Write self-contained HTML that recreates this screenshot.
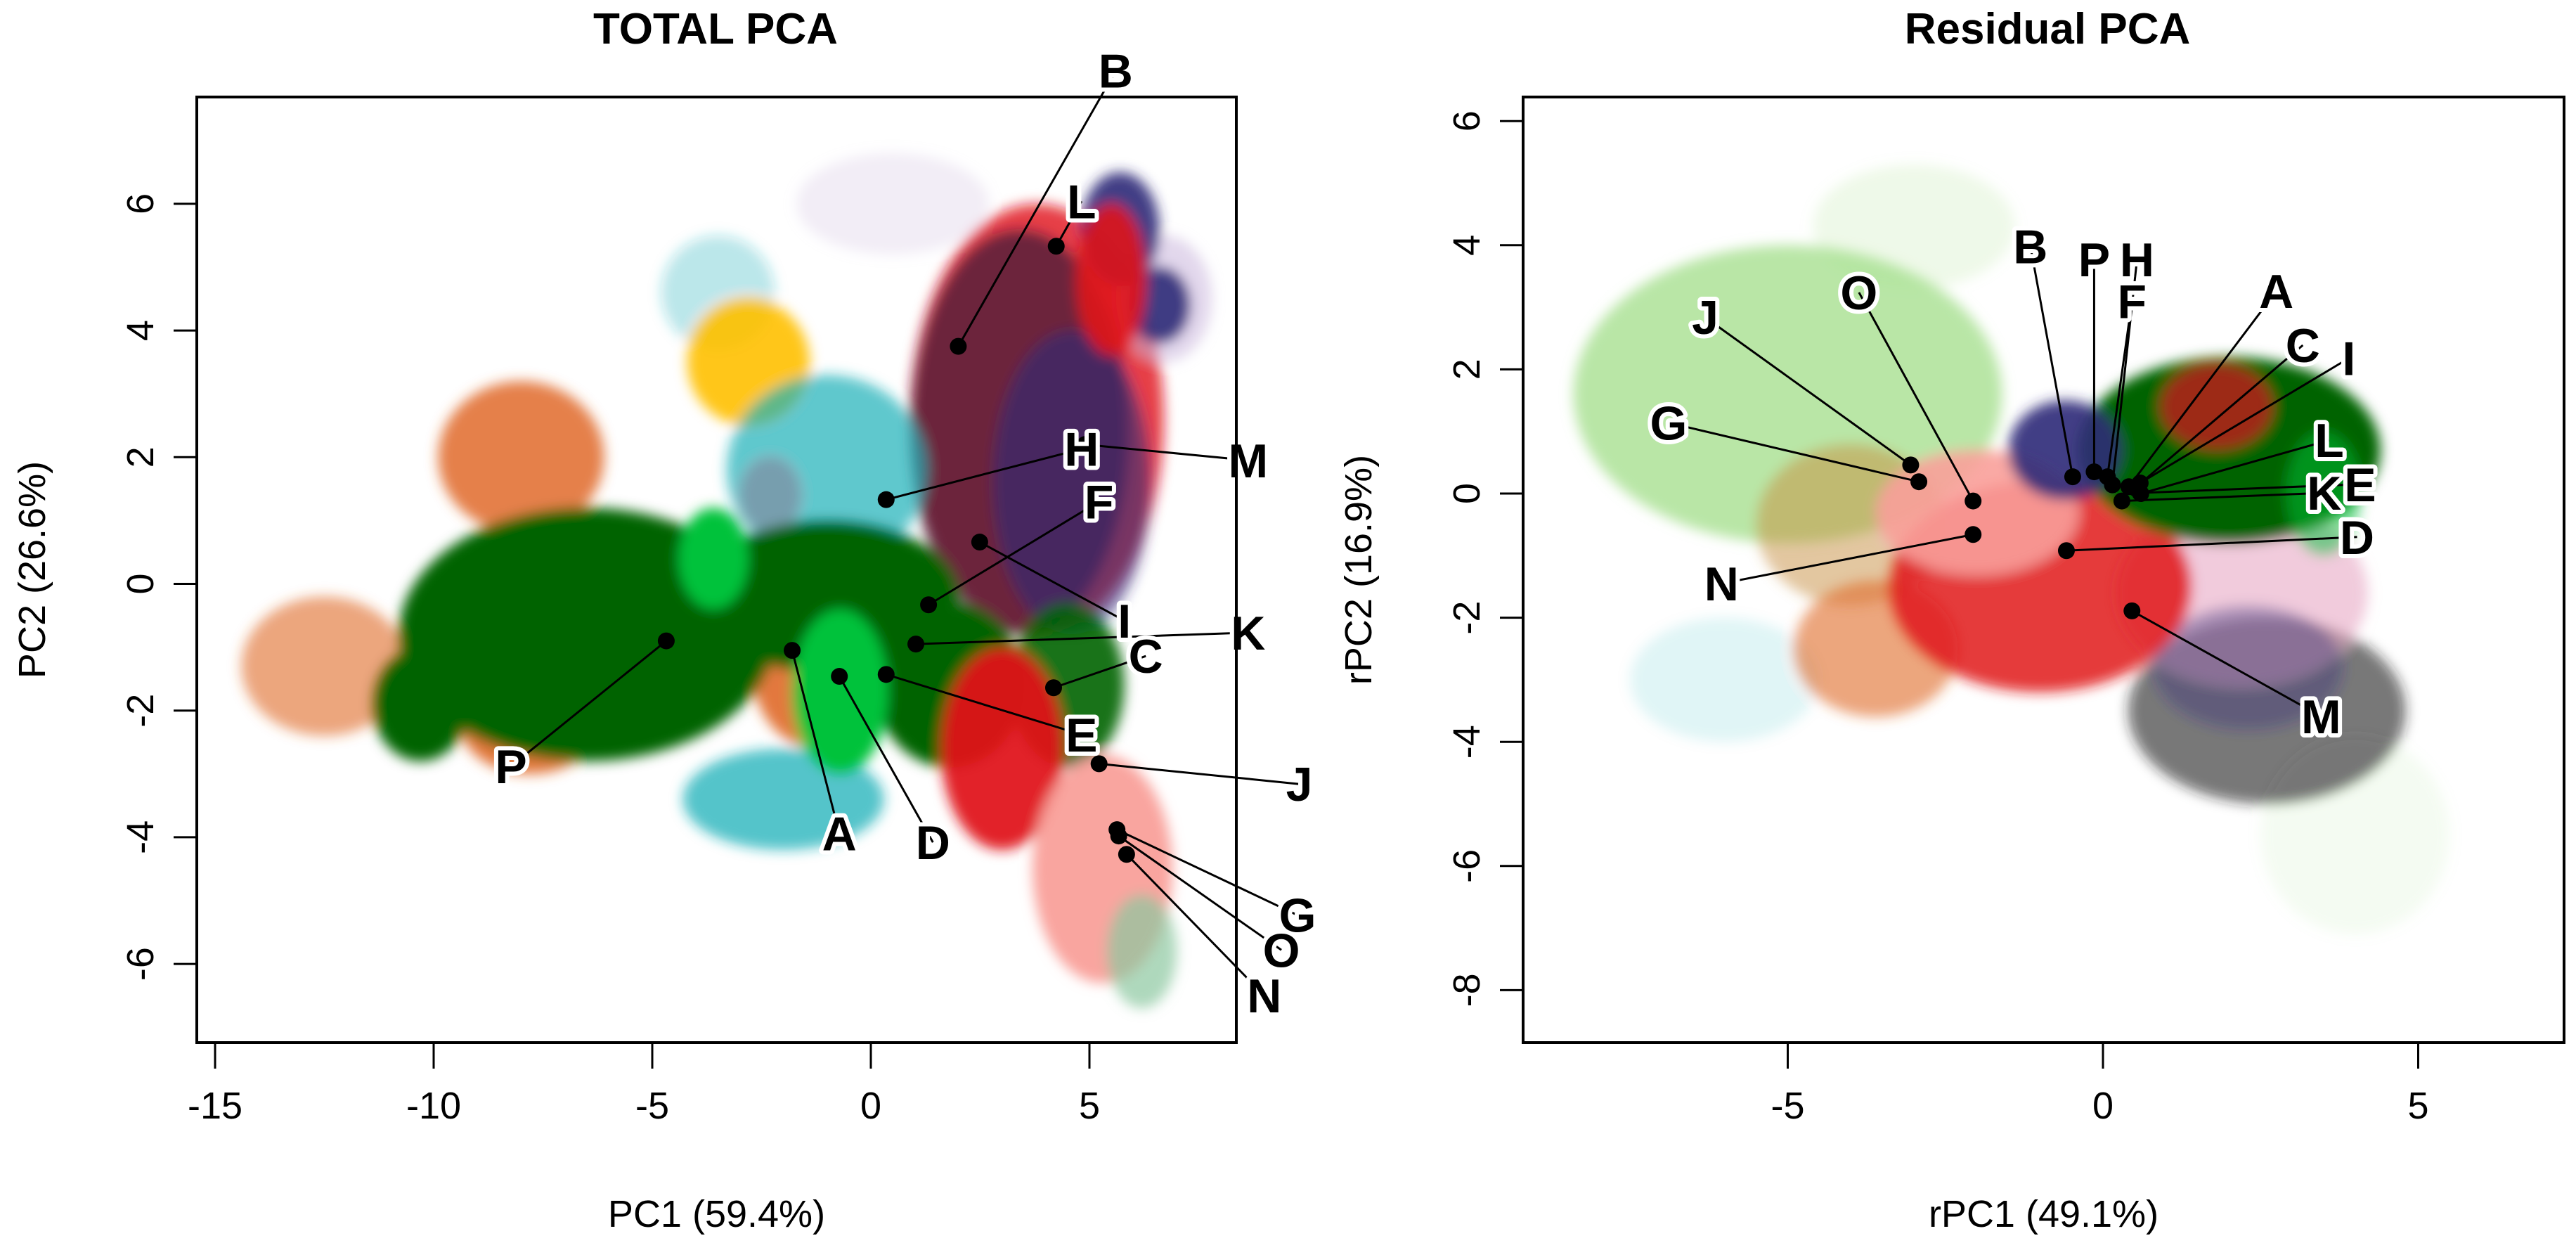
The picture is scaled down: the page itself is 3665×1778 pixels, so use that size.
<!DOCTYPE html>
<html><head><meta charset="utf-8"><style>
html,body{margin:0;padding:0;background:#fff}
svg{display:block;font-family:"Liberation Sans",sans-serif}
.lab{font-weight:bold;font-size:68px;paint-order:stroke;stroke:#fff;stroke-width:12px;stroke-linejoin:round}
</style></head><body>
<svg id="fig" width="3665" height="1778" viewBox="0 0 3665 1778" xmlns="http://www.w3.org/2000/svg">
<defs><filter id="fz" x="-30%" y="-30%" width="160%" height="160%"><feGaussianBlur stdDeviation="9"/></filter></defs>
</svg>
<script>
// ---------- data: TOTAL PCA ----------
const leftXTicks=[-15,-10,-5,0,5];
const leftYTicks=[-6,-4,-2,0,2,4,6];
// cluster clouds: [color, x, y, rx, ry, opacity]
const leftClouds=[
["#E06A2A",-12.5,-1.3,1.9,1.1,0.6],["#E06A2A",-8,2,1.9,1.2,0.85],["#1AB0B8",-3.5,4.6,1.3,0.9,0.3],
["#CBB6DC",0.5,6,2.2,0.8,0.25],["#E0141A",3.8,2.6,2.9,3.4,0.8],["#3A1838",3.4,2.4,2.5,3.2,0.7],
["#2E2A78",4.6,1.6,1.8,2.4,0.6],["#CBB6DC",6.7,4.5,1.1,1,0.55],["#2E2A78",5.7,5.6,0.9,0.9,0.9],
["#2E2A78",6.6,4.4,0.7,0.6,0.9],["#E0141A",5.5,4.8,0.8,1.2,0.9],["#FFC000",-2.8,3.5,1.4,1,0.9],
["#1AB0B8",-1,1.8,2.3,1.5,0.7],["#7E94A6",-2.3,1.4,0.7,0.6,0.8],["#1AB0B8",-2,-3.4,2.3,0.8,0.75],
["#E06A2A",-7.8,-2.2,1.6,0.8,0.9],["#E06A2A",-1.2,-1.4,1.5,1.2,0.9],
["#006400",-6.5,-0.8,4.3,2.0,1],["#006400",-10.3,-1.9,1.1,0.9,1],["#006400",-1,-0.2,3,1.2,1],
["#006400",1.8,-1.6,1.7,1.3,1],["#006400",4.5,-1.6,1.3,1.3,0.9],
["#00C23A",-0.7,-1.7,1.1,1.3,1],["#00C23A",-3.6,0.4,0.8,0.8,1],
["#E0141A",3,-2.6,1.4,1.6,0.95],["#F9A09A",5.3,-4.5,1.6,1.8,0.95],["#8CC8A0",6.2,-5.8,0.8,0.9,0.7]
];
const leftNames=["B","L","H","M","F","I","C","K","E","J","A","D","P","G","O","N"];
const leftPtX=[2.0,4.24,0.35,4.9,1.32,2.49,4.18,1.03,0.35,5.22,-1.8,-0.72,-4.68,5.63,5.67,5.85];
const leftPtY=[3.75,5.33,1.33,2.2,-0.33,0.66,-1.64,-0.95,-1.43,-2.84,-1.05,-1.46,-0.9,-3.88,-3.98,-4.27];
const leftLabX=[5.6,4.82,4.82,8.63,5.22,5.8,6.29,8.63,4.82,9.8,-0.72,1.42,-8.23,9.76,9.39,9.0];
const leftLabY=[8.1,6.04,2.13,1.95,1.3,-0.58,-1.14,-0.77,-2.38,-3.16,-3.94,-4.08,-2.88,-5.23,-5.78,-6.5];
// ---------- data: Residual PCA ----------
const rightXTicks=[-5,0,5];
const rightYTicks=[-8,-6,-4,-2,0,2,4,6];
const rightClouds=[
["#1AB0B8",-6,-3,1.5,1,0.12],["#A8E090",-3,4.3,1.6,1,0.2],["#A8E090",-5,1.6,3.4,2.4,0.8],
["#C89040",-4,-0.5,1.5,1.3,0.5],["#E06A2A",-3.6,-2.5,1.3,1.1,0.6],["#A8E090",4,-5.5,1.5,1.6,0.12],
["#202020",2.6,-3.5,2.2,1.5,0.6],["#E8A8C4",2.2,-1.6,2,1.5,0.6],["#2E2A78",2.3,-2.8,1.5,1,0.35],
["#E0141A",-1,-1.5,2.4,1.7,0.85],["#F9A09A",-2,-0.3,1.6,1,0.9],
["#006400",2,0.7,2.4,1.5,1],["#00C23A",3.5,0,0.6,1,0.5],["#E0141A",1.8,1.4,0.9,0.7,0.7],["#2E2A78",-0.6,0.7,0.9,0.8,0.9]
];
const rightNames=["B","P","H","F","A","C","I","L","E","K","D","M","J","O","G","N"];
const rightPtX=[-0.48,-0.14,0.15,0.07,0.41,0.51,0.59,0.6,0.59,0.3,-0.58,0.46,-3.05,-2.06,-2.92,-2.06];
const rightPtY=[0.27,0.35,0.14,0.27,0.11,0.09,0.17,0.0,0.01,-0.12,-0.92,-1.89,0.46,-0.12,0.19,-0.66];
const rightLabX=[-1.15,-0.14,0.54,0.46,2.75,3.17,3.9,3.59,4.08,3.51,4.03,3.46,-6.31,-3.87,-6.89,-6.05];
const rightLabY=[3.98,3.77,3.77,3.1,3.26,2.39,2.18,0.86,0.15,0.01,-0.7,-3.59,2.84,3.24,1.14,-1.45];

const NS="http://www.w3.org/2000/svg";
const svg=document.getElementById('fig');
function mk(tag,attrs,parent){const e=document.createElementNS(NS,tag);for(const k in attrs)e.setAttribute(k,attrs[k]);(parent||svg).appendChild(e);return e;}

function panel(p){
  const sx=v=>p.x0px+p.xs*v, sy=v=>p.y0px-p.ys*v;
  const g=mk('g',{});
  
  
  const clip=mk('clipPath',{id:p.id+'-clip'},g);
  mk('rect',{x:p.L,y:p.T,width:p.R-p.L,height:p.B-p.T},clip);
  const cg=mk('g',{'clip-path':'url(#'+p.id+'-clip)'},g);
  const fg=mk('g',{filter:'url(#fz)'},cg);
  p.clouds.forEach((c,i)=>{
    const e=mk('ellipse',{cx:sx(c[1]),cy:sy(c[2]),rx:c[3]*p.xs,ry:c[4]*p.ys,fill:c[0],'fill-opacity':c[5]},fg);
    
    
  });
  p.names.forEach((n,i)=>{
    const l=mk('line',{x1:sx(p.lx[i]),y1:sy(p.ly[i]),x2:sx(p.px[i]),y2:sy(p.py[i]),stroke:'#000','stroke-width':3},g);
    
    
  });
  p.names.forEach((n,i)=>{
    const c=mk('circle',{cx:sx(p.px[i]),cy:sy(p.py[i]),r:12,fill:'#000'},g);
    
    
  });
  p.names.forEach((n,i)=>{
    const t=mk('text',{x:sx(p.lx[i]),y:sy(p.ly[i])+24,'text-anchor':'middle',class:'lab'},g);
    t.textContent=n;
    
    
  });
  const fr=mk('rect',{x:p.L,y:p.T,width:p.R-p.L,height:p.B-p.T,fill:'none',stroke:'#000','stroke-width':4},g);
  
  
  p.xt.forEach(v=>{
    mk('line',{x1:sx(v),x2:sx(v),y1:p.B,y2:p.B+37,stroke:'#000','stroke-width':3},g);
    const t=mk('text',{x:sx(v),y:p.B+108,'text-anchor':'middle','font-size':54},g);
    t.textContent=v;
    
    
  });
  p.yt.forEach(v=>{
    mk('line',{x1:p.L-33,x2:p.L,y1:sy(v),y2:sy(v),stroke:'#000','stroke-width':3},g);
    const t=mk('text',{x:p.L-80,y:sy(v),'text-anchor':'middle','font-size':54,transform:'rotate(-90 '+(p.L-80)+' '+sy(v)+')','dominant-baseline':'central'},g);
    t.textContent=v;
    
    
  });
  const xt=mk('text',{x:(p.L+p.R)/2,y:1745,'text-anchor':'middle','font-size':54},g);
  xt.textContent=p.xlab;
  
  
  const yx=p.L-234, yy=(p.T+p.B)/2;
  const yt=mk('text',{x:yx,y:yy,'text-anchor':'middle','font-size':54,'dominant-baseline':'central',transform:'rotate(-90 '+yx+' '+yy+')'},g);
  yt.textContent=p.ylab;
  
  
  const tt=mk('text',{x:p.titleX,y:62,'text-anchor':'middle','font-size':62,'font-weight':'bold'},g);
  tt.textContent=p.title;
  
  
}
panel({id:'total-pca',L:280,R:1759,T:138,B:1483,x0px:1239,xs:62.2,y0px:830.5,ys:90.1,
  clouds:leftClouds,names:leftNames,px:leftPtX,py:leftPtY,lx:leftLabX,ly:leftLabY,
  xt:leftXTicks,yt:leftYTicks,xlab:'PC1 (59.4%)',ylab:'PC2 (26.6%)',title:'TOTAL PCA',titleX:1018});
panel({id:'residual-pca',L:2167,R:3648,T:138,B:1483,x0px:2992,xs:89.7,y0px:702,ys:88.3,
  clouds:rightClouds,names:rightNames,px:rightPtX,py:rightPtY,lx:rightLabX,ly:rightLabY,
  xt:rightXTicks,yt:rightYTicks,xlab:'rPC1 (49.1%)',ylab:'rPC2 (16.9%)',title:'Residual PCA',titleX:2913});
</script>
</body></html>
